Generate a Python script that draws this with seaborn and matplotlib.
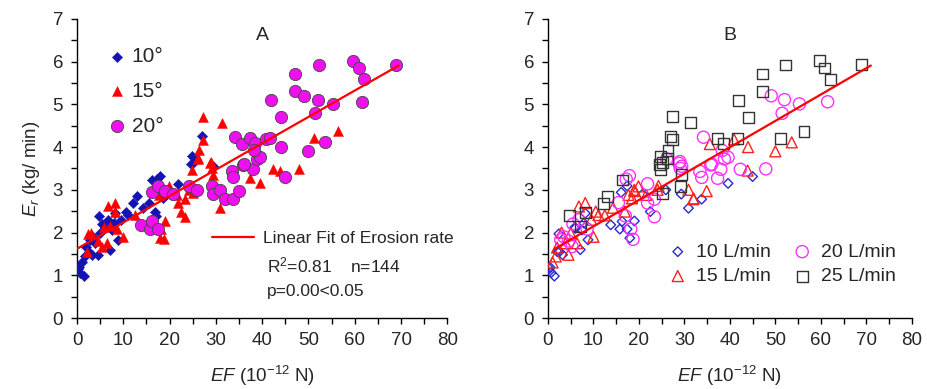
import numpy as np
import pandas as pd
import matplotlib
matplotlib.use("Agg")
import matplotlib.pyplot as plt
import seaborn as sns
from matplotlib import font_manager
from matplotlib.ticker import MultipleLocator
from matplotlib.lines import Line2D

# ---- data: EF (1e-12 N), erosion rate (kg/min), flow (L/min)
ef_10 = [0.4, 1.0, 1.4, 0.7, 1.7, 0.3, 2.5, 3.2, 4.5, 3.5, 2.8, 3.9, 4.8, 5.0, 6.8,
         7.1, 7.9, 8.2, 8.8, 7.5, 6.0, 10.5, 11.1, 12.2, 14.3, 16.9, 17.0, 16.3, 17.9,
         17.2, 19.0, 21.9, 24.8, 25.2, 24.6, 27.0, 29.4, 9.5, 5.5, 2.0, 13.0, 18.5, 15.5]
er_10 = [1.19, 1.30, 0.98, 1.06, 1.44, 1.15, 1.55, 1.48, 1.48, 1.90, 1.83, 1.75, 2.39, 1.98, 2.30,
         1.60, 2.22, 2.45, 1.83, 2.06, 2.10, 2.49, 2.41, 2.69, 2.58, 2.49, 2.39, 3.23, 3.33,
         3.25, 3.00, 3.14, 3.78, 3.64, 3.60, 4.25, 3.55, 2.30, 2.20, 1.65, 2.85, 2.80, 2.70]
flow_10 = [10, 15, 10, 10, 15, 10, 10, 10, 15, 20, 20, 15, 25, 15, 20,
           10, 10, 10, 10, 10, 10, 15, 15, 25, 15, 15, 20, 25, 20,
           20, 15, 20, 25, 25, 25, 25, 20, 15, 20, 15, 25, 15, 20]

ef_15 = [6.8, 8.2, 8.2, 5.9, 7.1, 2.4, 2.1, 5.3, 6.4, 8.6, 10.0, 18.7, 19.0, 18.2, 19.9,
         17.7, 21.6, 21.9, 22.5, 23.4, 23.4, 24.1, 25.1, 24.8, 26.4, 26.2, 29.0, 29.3, 27.3,
         30.9, 27.3, 31.3, 26.1, 28.8, 29.1, 37.3, 39.6, 42.3, 43.9, 47.9, 51.1, 56.3, 32.0,
         18.0, 3.0, 4.5, 12.5]
er_15 = [2.61, 2.69, 2.47, 2.12, 2.15, 1.97, 1.55, 1.67, 1.75, 2.08, 1.90, 1.84, 2.27, 2.08, 3.08,
         2.88, 2.88, 2.69, 2.49, 2.37, 2.78, 3.00, 2.92, 3.47, 3.93, 3.74, 3.66, 3.35, 4.17,
         2.57, 4.71, 4.57, 3.72, 3.62, 3.50, 3.27, 3.15, 3.48, 3.45, 3.49, 4.21, 4.37, 2.80,
         1.87, 2.00, 1.80, 2.40]
flow_15 = [15, 15, 25, 10, 25, 10, 10, 20, 15, 20, 15, 20, 10, 20, 15,
           15, 15, 20, 10, 20, 20, 15, 25, 25, 25, 25, 20, 25, 25,
           10, 25, 25, 20, 20, 20, 20, 10, 20, 15, 20, 25, 25, 15,
           10, 15, 20, 15]

ef_20 = [16.1, 17.4, 19.0, 13.8, 15.8, 16.3, 17.4, 20.8, 24.3, 25.9, 29.1, 29.3, 30.9, 32.0, 33.8,
         34.9, 33.4, 33.8, 35.8, 38.0, 38.8, 39.6, 45.0, 34.2, 35.6, 37.3, 38.5, 38.3, 40.9,
         41.7, 44.0, 50.0, 53.6, 51.5, 55.3, 44.0, 41.9, 47.1, 52.2, 47.1, 49.1, 52.0, 59.7,
         60.9, 62.1, 61.5, 69.0, 36.0]
er_20 = [2.94, 3.09, 2.97, 2.18, 2.08, 2.26, 2.08, 2.90, 3.09, 3.00, 3.08, 2.90, 3.00, 2.78, 2.78,
         2.97, 3.43, 3.29, 3.58, 3.48, 3.72, 3.76, 3.31, 4.23, 4.07, 4.21, 4.09, 3.92, 4.18,
         4.21, 4.00, 3.90, 4.11, 4.79, 5.01, 4.70, 5.09, 5.71, 5.92, 5.31, 5.20, 5.11, 6.02,
         5.85, 5.59, 5.06, 5.93, 3.60]
flow_20 = [10, 10, 15, 10, 10, 10, 10, 10, 15, 10, 25, 10, 15, 15, 10,
           15, 20, 20, 20, 20, 20, 20, 10, 20, 15, 25, 25, 20, 15,
           25, 15, 15, 15, 20, 20, 25, 25, 25, 25, 25, 20, 20, 25,
           25, 25, 20, 25, 20]

# linear fit of erosion rate (as printed on the figure)
fit_intercept = 1.62
fit_slope = 0.0617
fit_x_a = [0.0, 69.5]
fit_x_b = [1.5, 71.0]
r2_text = "R$^{2}$=0.81    n=144"
p_text = "p=0.00<0.05"

slope_labels = ["10°", "15°", "20°"]
flow_labels = ["10 L/min", "15 L/min", "20 L/min", "25 L/min"]

df = pd.concat([
    pd.DataFrame({"EF": ef_10, "Er": er_10, "slope": "10°", "flow": flow_10}),
    pd.DataFrame({"EF": ef_15, "Er": er_15, "slope": "15°", "flow": flow_15}),
    pd.DataFrame({"EF": ef_20, "Er": er_20, "slope": "20°", "flow": flow_20}),
], ignore_index=True)

sns.set_style("ticks")
names = {f.name for f in font_manager.fontManager.ttflist}
narrow = "Liberation Sans Narrow" if "Liberation Sans Narrow" in names else "Liberation Sans"
plt.rcParams["font.family"] = ["Liberation Sans", "DejaVu Sans"]
plt.rcParams["mathtext.fontset"] = "custom"
plt.rcParams["mathtext.rm"] = "Liberation Sans"
plt.rcParams["mathtext.it"] = "Liberation Sans:italic"

fig = plt.figure(figsize=(9.28, 3.89), dpi=100)
axA = fig.add_axes([0.083, 0.1825, 0.399, 0.769])
axB = fig.add_axes([0.5905, 0.1825, 0.392, 0.769])

# panel A: filled markers by slope
slope_style = {
    "10°": dict(marker="D", color="#1414b4", s=28, edgecolor="#1414b4", linewidth=0.3),
    "15°": dict(marker="^", color="#ff0000", s=52, edgecolor="#ff0000", linewidth=0.3),
    "20°": dict(marker="o", color="#ee10ee", s=78, edgecolor="#444444", linewidth=0.6),
}
for lab in slope_labels:
    sub = df[df["slope"] == lab]
    sns.scatterplot(data=sub, x="EF", y="Er", ax=axA, label=lab, zorder=3, **slope_style[lab])

fit_y_a = [fit_intercept + fit_slope * x for x in fit_x_a]
sns.lineplot(x=fit_x_a, y=fit_y_a, ax=axA, color="#ff0000", linewidth=1.6, zorder=4)

# panel B: open markers by flow rate
flow_style = {
    10: dict(marker="D", color="#2a2ad0", s=24),
    15: dict(marker="^", color="#ff2020", s=62),
    20: dict(marker="o", color="#ff30ff", s=76),
    25: dict(marker="s", color="#333333", s=62),
}
for fl, lab in zip([10, 15, 20, 25], flow_labels):
    sub = df[df["flow"] == fl]
    st = flow_style[fl]
    sns.scatterplot(data=sub, x="EF", y="Er", ax=axB, label=lab, facecolor="none",
                    edgecolor=st["color"], linewidth=1.0, zorder=3, **st)

fit_y_b = [fit_intercept + fit_slope * (x - fit_x_b[0]) for x in fit_x_b]
sns.lineplot(x=fit_x_b, y=fit_y_b, ax=axB, color="#ff0000", linewidth=1.6, zorder=4)

for ax, letter in [(axA, "A"), (axB, "B")]:
    ax.set_xlim(0, 80)
    ax.set_ylim(0, 7)
    ax.xaxis.set_major_locator(MultipleLocator(10))
    ax.xaxis.set_minor_locator(MultipleLocator(5))
    ax.yaxis.set_major_locator(MultipleLocator(1))
    ax.yaxis.set_minor_locator(MultipleLocator(0.5))
    ax.tick_params(which="both", direction="out", length=4, width=1, color="black")
    ax.tick_params(which="major", labelsize=13.5, pad=6)
    for t in ax.get_xticklabels() + ax.get_yticklabels():
        t.set_fontfamily(narrow)
    sns.despine(ax=ax)
    for sp in ["left", "bottom"]:
        ax.spines[sp].set_color("black")
        ax.spines[sp].set_linewidth(1.0)
    ax.set_xlabel(r"$\it{EF}$ (10$^{-12}$ N)", fontsize=13.5, family=narrow, labelpad=11)
    ax.text(0.5, 0.945, letter, transform=ax.transAxes, fontsize=14, ha="center", va="center")

axA.set_ylabel(r"$\it{E}_{r}$ (kg/ min)", fontsize=13.5, labelpad=8)
axB.set_ylabel("")

# legends for panel A
hA, lA = axA.get_legend_handles_labels()
leg1 = axA.legend(hA[:3], lA[:3], loc="upper left", bbox_to_anchor=(0.08, 0.905),
                  frameon=False, fontsize=15, handletextpad=0.2, labelspacing=0.75,
                  handlelength=1.0, borderaxespad=0, borderpad=0)
axA.add_artist(leg1)
fit_handle = Line2D([], [], color="#ff0000", linewidth=1.6)
axA.legend([fit_handle], ["Linear Fit of Erosion rate"], loc="center left",
           bbox_to_anchor=(0.365, 0.267), frameon=False, fontsize=12.5,
           handlelength=2.4, handletextpad=0.5, borderaxespad=0, borderpad=0)
axA.text(0.512, 0.177, r2_text, transform=axA.transAxes, fontsize=12.5, va="center")
axA.text(0.512, 0.087, p_text, transform=axA.transAxes, fontsize=12.5, va="center")

# legend for panel B
hB, lB = axB.get_legend_handles_labels()
axB.legend(hB, lB, loc="center left", bbox_to_anchor=(0.33, 0.18), ncol=2,
           frameon=False, fontsize=14, handletextpad=0.45, columnspacing=1.1,
           labelspacing=0.35, handlelength=1.0, borderaxespad=0, borderpad=0)

fig.savefig("out.png", dpi=100)
